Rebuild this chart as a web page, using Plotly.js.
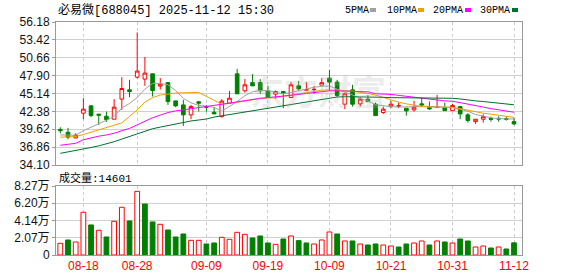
<!DOCTYPE html>
<html><head><meta charset="utf-8">
<script src="https://cdn.plot.ly/plotly-3.0.1.min.js"></script>
<style>html,body{margin:0;padding:0;background:#fff;}#chart{width:578px;height:276px;}</style>
</head><body><div id="chart"></div>
<script>
const stockName = '必易微';
const stockCode = '688045';
const stamp = '2025-11-12 15:30';

const openP  = [39.60,39.16,38.28,42.10,43.23,41.95,41.63,41.17,44.27,45.71,47.67,47.36,48.18,46.28,46.83,44.00,43.38,41.84,43.85,43.12,42.25,41.57,43.65,48.18,45.55,46.83,46.83,45.55,45.04,45.44,44.51,46.32,45.65,45.74,46.43,47.51,46.90,43.49,45.70,43.54,44.27,43.49,42.20,43.12,43.20,42.87,42.61,43.54,42.97,43.00,42.97,42.50,43.12,41.84,40.80,41.17,41.27,41.30,41.27,40.80];
const highP  = [39.93,39.83,39.00,44.42,43.30,42.00,42.35,44.27,47.67,47.25,54.57,50.77,48.18,47.51,46.83,44.00,44.17,43.38,44.00,43.38,43.03,44.27,45.55,48.95,47.36,48.13,47.36,46.32,45.60,45.55,46.90,47.10,46.90,46.32,47.51,48.80,47.25,45.19,46.48,44.57,44.93,43.74,43.12,44.00,43.74,42.87,44.00,44.42,43.90,44.93,43.74,43.54,43.12,42.10,41.17,41.94,41.57,41.60,41.57,41.42];
const lowP   = [38.99,38.08,38.23,41.17,41.48,40.29,40.76,41.17,42.61,44.57,47.45,46.32,44.67,45.75,43.38,43.03,40.14,41.17,42.35,42.35,41.99,41.42,43.54,45.09,45.29,46.32,45.04,44.51,44.31,42.87,44.51,45.55,45.60,45.09,46.43,45.55,44.57,42.72,43.12,43.12,43.89,41.73,41.99,42.87,42.87,41.73,42.35,43.03,42.61,43.00,42.50,42.50,41.17,40.65,40.44,40.65,40.80,40.80,40.96,40.29];
const closeP = [39.40,38.40,38.70,42.72,41.73,41.80,41.11,43.03,45.91,45.44,48.60,48.29,45.60,46.59,43.89,43.23,41.84,43.12,43.65,43.03,41.99,43.97,44.42,45.09,46.48,46.32,45.55,44.51,45.44,45.19,46.48,45.86,45.72,45.78,46.83,46.90,44.82,45.09,43.49,44.27,43.89,41.73,42.72,43.49,43.23,42.46,43.03,43.38,42.77,43.03,42.50,43.28,41.99,40.96,41.17,41.57,41.15,41.20,41.17,40.44];
const prevClose0 = 39.20;

const volume = [14000,18000,15600,51200,36000,29600,21600,40400,57200,40800,76300,61100,39600,36800,30000,21600,25200,17600,17600,13200,14400,21200,18800,27200,24800,20400,22800,14400,12800,19200,22800,17200,14400,13200,18000,27600,25200,16800,16800,13200,12000,13200,12000,10800,9600,13200,14400,16800,12000,16800,15600,14400,19200,16800,9600,10800,8400,9600,7200,14601];

const ma5  = [38.74,38.74,38.70,39.40,39.90,40.40,41.00,41.60,42.90,43.60,44.50,45.80,46.70,46.70,46.50,45.60,44.40,43.70,43.30,43.20,43.00,42.40,43.10,43.90,44.80,45.40,45.60,45.60,45.30,45.10,45.30,45.60,45.90,46.10,46.25,46.30,45.80,45.40,44.90,44.40,44.00,43.40,43.20,43.10,43.05,43.03,43.10,43.20,43.15,43.10,43.05,43.00,42.70,42.40,41.90,41.60,41.40,41.25,41.20,41.20];
const ma10 = [38.39,38.45,38.50,38.80,39.15,39.50,39.80,40.20,40.60,41.60,42.60,43.80,44.50,44.90,45.10,45.20,45.25,45.30,45.30,44.70,44.10,43.50,43.60,43.80,44.00,44.25,44.35,44.45,44.50,44.70,44.90,45.15,45.35,45.50,45.65,45.70,45.70,45.60,45.50,45.35,45.15,44.90,44.50,44.15,43.80,43.55,43.30,43.12,43.05,43.05,43.03,43.00,42.80,42.55,42.30,42.10,41.95,41.80,41.60,41.45];
const ma20 = [37.15,37.30,37.45,38.00,38.30,38.55,38.74,39.00,39.40,39.75,40.30,40.90,41.40,41.80,42.20,42.45,42.61,42.80,42.95,43.10,43.30,43.45,43.65,43.85,44.05,44.27,44.40,44.50,44.60,44.70,44.85,45.00,45.15,45.30,45.45,45.55,45.55,45.50,45.48,45.45,45.40,45.10,45.09,45.00,44.85,44.70,44.55,44.40,44.25,44.10,44.00,43.95,43.75,43.50,43.30,43.05,42.80,42.60,42.40,42.25];
const ma30 = [35.90,36.10,36.30,36.55,36.80,37.05,37.35,37.70,38.10,38.50,38.95,39.40,39.70,39.95,40.20,40.45,40.70,40.90,41.05,41.20,41.50,41.70,41.90,42.10,42.30,42.50,42.70,42.90,43.10,43.30,43.50,43.70,43.90,44.10,44.30,44.50,44.60,44.65,44.65,44.65,44.65,44.60,44.55,44.50,44.50,44.50,44.50,44.50,44.50,44.50,44.50,44.40,44.30,44.10,44.00,43.90,43.75,43.65,43.50,43.40];

const tickLabels = ['08-18','08-28','09-09','09-19','10-09','10-21','10-31','11-12'];
const tickIndex  = [3,10,19,27,35,43,51,59];
const priceTicks = [34.10,36.86,39.62,42.38,45.14,47.90,50.66,53.42,56.18];
const volTicks   = [0,20700,41400,62000,82700];
const volTickText = ['0','2.07万','4.14万','6.20万','8.27万'];
const maNames = ['5PMA','10PMA','20PMA','30PMA'];
const maColors = ['#a0a0a0','#f0a000','#ff00ff','#00702e'];

const RED = '#ff0000', GREEN = '#008000';
const idx = closeP.map((_, i) => i);
const volUp = closeP.map((c, i) => c >= (i === 0 ? prevClose0 : closeP[i - 1]));

// pixel helpers for overlay text
const L = 56, R = 522, T = 22, B = 255;
const px = x => (x - L) / (R - L);
const py = y => (B - y) / (B - T);

const traces = [
  {type:'candlestick', x:idx, open:openP, high:highP, low:lowP, close:closeP, xaxis:'x', yaxis:'y',
   increasing:{line:{color:RED,width:1}, fillcolor:'#ffffff'},
   decreasing:{line:{color:GREEN,width:1}, fillcolor:GREEN},
   whiskerwidth:0, hoverinfo:'skip'}
];
[ma5, ma10, ma20, ma30].forEach((m, k) => traces.push({
  type:'scatter', mode:'lines', x:idx, y:m, xaxis:'x', yaxis:'y',
  line:{color:maColors[k], width:1}, hoverinfo:'skip'
}));
traces.push({
  type:'bar', x:idx, y:volume, xaxis:'x2', yaxis:'y2',
  marker:{color: volUp.map(u => u ? '#ffffff' : GREEN), line:{color: volUp.map(u => u ? RED : GREEN), width:1}},
  hoverinfo:'skip'
});

const tickFont = {family:'Liberation Sans, Arial, sans-serif', size:12, color:'#111'};
const xr = [-0.56, 60.04];
const gridX = {tickvals:tickIndex, ticktext:tickLabels, showgrid:true, gridcolor:'#cccccc', griddash:'3px,3px', gridwidth:1,
  showline:true, linecolor:'#999', mirror:true, zeroline:false, range:xr, ticks:'', fixedrange:true};

const annotations = [
  {xref:'paper', yref:'paper', x:px(56), y:py(10), xanchor:'left', yanchor:'middle', showarrow:false,
   text: stockName + '[' + stockCode + '] ' + stamp,
   font:{family:'Liberation Mono, Noto Sans CJK SC, monospace', size:12, color:'#000'}},
  {xref:'paper', yref:'paper', x:px(57), y:py(178), xanchor:'left', yanchor:'middle', showarrow:false,
   text: '成交量:' + volume[volume.length - 1],
   font:{family:'Liberation Mono, Noto Sans CJK SC, monospace', size:11, color:'#000'}},
  {xref:'paper', yref:'paper', x:px(318), y:py(90), xanchor:'center', yanchor:'middle', showarrow:false,
   text:'东方财富', font:{family:'Noto Sans CJK SC', size:34, color:'rgba(170,170,170,0.22)', weight:700}}
];
const legendX = [343, 385, 431, 478];
const markX = [370, 418, 465, 512];
const shapes = [];
maNames.forEach((n, k) => {
  annotations.push({xref:'paper', yref:'paper', x:px(legendX[k]), y:py(10), xanchor:'left', yanchor:'middle', showarrow:false,
    text:n, font:{family:'Liberation Mono, monospace', size:10, color:'#000'}});
  shapes.push({type:'rect', xref:'paper', yref:'paper', x0:px(markX[k]), x1:px(markX[k] + 6), y0:py(12), y1:py(8),
    fillcolor:maColors[k], line:{width:0}});
});

const layout = {
  width:578, height:276, margin:{l:56, r:56, t:22, b:21},
  paper_bgcolor:'#ffffff', plot_bgcolor:'#ffffff', showlegend:false,
  boxgap:0.32, bargap:0.38,
  xaxis: Object.assign({}, gridX, {anchor:'y', showticklabels:false, rangeslider:{visible:false}}),
  yaxis: {domain:[py(165), 1], anchor:'x', range:[34.10, 56.18], tickvals:priceTicks, ticktext:priceTicks.map(v => v.toFixed(2)),
    ticks:'outside', ticklen:3, tickcolor:'#999', gridcolor:'#d0d0d0', showline:true, linecolor:'#999', mirror:true,
    zeroline:false, tickfont:tickFont, fixedrange:true},
  xaxis2: Object.assign({}, gridX, {anchor:'y2', showticklabels:true,
    tickfont:{family:'Liberation Sans, Arial, sans-serif', size:12, color:'#ff0000'}}),
  yaxis2: {domain:[0, py(186)], anchor:'x2', range:[0, 82700], tickvals:volTicks, ticktext:volTickText,
    ticks:'outside', ticklen:3, tickcolor:'#999', gridcolor:'#d0d0d0', showline:true, linecolor:'#999', mirror:true,
    zeroline:false, tickfont:Object.assign({}, tickFont, {family:'Liberation Sans, Noto Sans CJK SC, sans-serif'}), fixedrange:true},
  annotations: annotations, shapes: shapes
};

Plotly.newPlot('chart', traces, layout, {staticPlot:true, displayModeBar:false});
</script></body></html>
